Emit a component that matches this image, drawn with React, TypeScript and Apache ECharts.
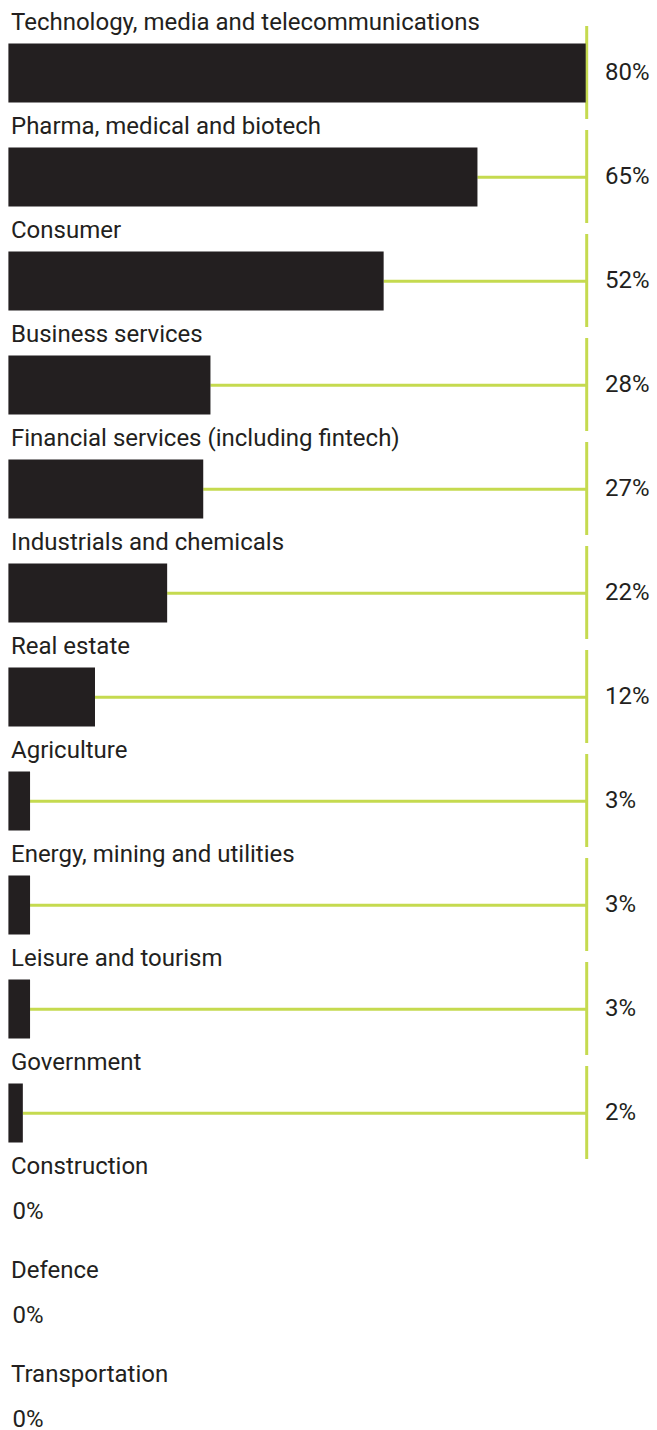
import React, { useEffect, useRef } from "react";
import * as echarts from "echarts";

const categories = [
  "Technology, media and telecommunications",
  "Pharma, medical and biotech",
  "Consumer",
  "Business services",
  "Financial services (including fintech)",
  "Industrials and chemicals",
  "Real estate",
  "Agriculture",
  "Energy, mining and utilities",
  "Leisure and tourism",
  "Government",
  "Construction",
  "Defence",
  "Transportation",
];
const values = [80, 65, 52, 28, 27, 22, 12, 3, 3, 3, 2, 0, 0, 0];
const axisMax = 80;

const BAR = "#231f20";
const GREEN = "#c5da4f";
const FONT = "Roboto";

export default function App() {
  const ref = useRef<HTMLDivElement>(null);
  useEffect(() => {
    document.body.style.margin = "0";
    document.body.style.overflow = "hidden";
    const chart = echarts.init(ref.current!, null, { renderer: "svg" });
    chart.setOption({
      animation: false,
      grid: { left: 8.4, width: 577.3, top: 21, height: 104 * categories.length },
      xAxis: { type: "value", min: 0, max: axisMax, show: false },
      yAxis: { type: "category", data: categories, inverse: true, show: false },
      series: [
        {
          type: "bar",
          data: values,
          barWidth: 59,
          itemStyle: { color: BAR },
          silent: true,
        },
        {
          type: "custom",
          clip: false,
          silent: true,
          data: values.map((v, i) => [v, i]),
          renderItem: (params: any, api: any) => {
            const v = api.value(0);
            const idx = api.value(1);
            const [x0, yc] = api.coord([0, idx]);
            const xv = api.coord([v, idx])[0];
            const xr = api.coord([axisMax, idx])[0] + 1;
            const children: any[] = [
              {
                type: "text",
                x: x0 + 2.6,
                y: yc - 51,
                style: {
                  text: categories[idx],
                  fill: BAR,
                  font: `24px ${FONT}`,
                  verticalAlign: "middle",
                  align: "left",
                },
              },
            ];
            if (v > 0) {
              children.push(
                {
                  type: "line",
                  shape: { x1: xv, y1: yc + 0.3, x2: xr, y2: yc + 0.3 },
                  style: { stroke: GREEN, lineWidth: 3 },
                },
                {
                  type: "line",
                  shape: { x1: xr, y1: yc - 47, x2: xr, y2: yc + 46 },
                  style: { stroke: GREEN, lineWidth: 3 },
                },
                {
                  type: "text",
                  x: 605,
                  y: yc - 1.5,
                  style: {
                    text: `${v}%`,
                    fill: BAR,
                    font: `24px ${FONT}`,
                    verticalAlign: "middle",
                    align: "left",
                  },
                }
              );
            } else {
              children.push({
                type: "text",
                x: x0 + 4,
                y: yc - 6,
                style: {
                  text: `${v}%`,
                  fill: BAR,
                  font: `24px ${FONT}`,
                  verticalAlign: "middle",
                  align: "left",
                },
              });
            }
            return { type: "group", children };
          },
        },
      ],
    });
    return () => chart.dispose();
  }, []);
  return (
    <div style={{ width: 657, height: 1430, overflow: "hidden" }}>
      <div ref={ref} style={{ width: 657, height: 1500 }} />
    </div>
  );
}
